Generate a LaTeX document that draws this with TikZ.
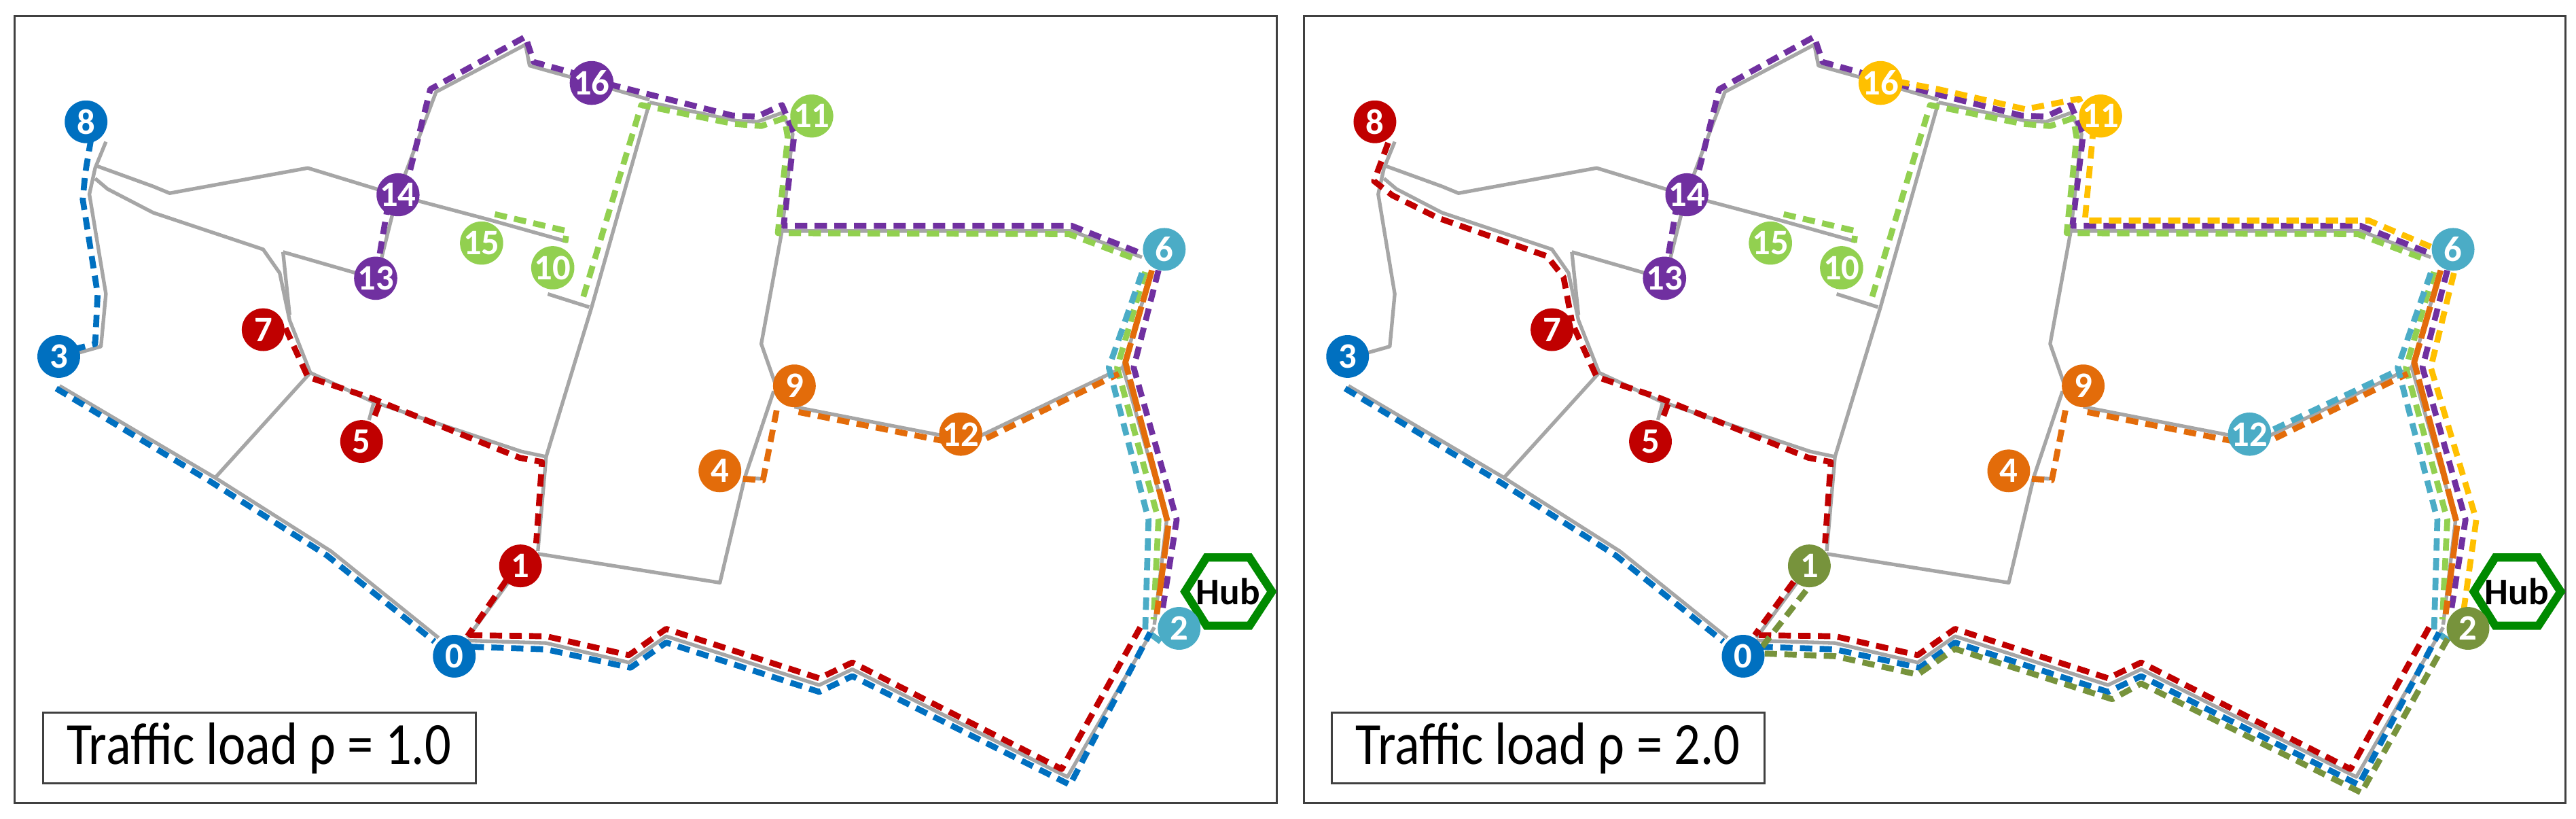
\documentclass[tikz,border=0pt]{standalone}
\usepackage{fontspec}
\setmainfont{Carlito}
\begin{document}
\definecolor{cblue}{HTML}{0070C0}
\definecolor{cred}{HTML}{C00000}
\definecolor{cpurple}{HTML}{7030A0}
\definecolor{cgreen}{HTML}{92D050}
\definecolor{corange}{HTML}{E36C0A}
\definecolor{ccyan}{HTML}{4BACC6}
\definecolor{cgold}{HTML}{FFC000}
\definecolor{colive}{HTML}{77933C}
\definecolor{croad}{HTML}{A6A6A6}
\definecolor{chub}{HTML}{008A00}
\begin{tikzpicture}[
  road/.style={draw=croad,line width=0.22mm,line join=round},
  rt/.style={line width=0.36mm,dash pattern=on 0.75mm off 0.45mm,line join=round},
  stop/.style={circle,minimum size=2.6mm,inner sep=0pt,text=white,font=\bfseries\fontsize{6.2}{7}\selectfont},
  frame/.style={draw=black!75,line width=0.12mm},
  lbl/.style={font=\fontsize{9}{11}\selectfont,yscale=1.15},
]
\useasboundingbox (0,0) rectangle (156.8mm,-49.8mm);
\newcommand\roadnet{%
  \draw[road] (128,270)--(115,320)--(108,370)--(128,560)--(122,660)--(95,672);
  \draw[road] (115,315)--(185,355)--(205,368)--(372,320)--(480,372)--(590,418)--(685,460);
  \draw[road] (115,340)--(130,360)--(185,405)--(318,475)--(338,520)--(350,610)--(375,710);
  \draw[road] (342,480)--(430,520);
  \draw[road] (342,480)--(350,600);
  \draw[road] (375,710)--(260,910);
  \draw[road] (72,735)--(260,910)--(400,1050)--(530,1215);
  \draw[road] (375,710)--(450,765)--(630,860)--(660,870);
  \draw[road] (452,765)--(446,800);
  \draw[road] (660,870)--(715,585)--(785,195);
  \draw[road] (662,560)--(712,585);
  \draw[road] (660,870)--(650,1050);
  \draw[road] (629,1078)--(565,1215);
  \draw[road] (650,1055)--(870,1110)--(900,910)--(935,745);
  \draw[road] (900,910)--(920,912);
  \draw[road] (940,745)--(920,655)--(945,440)--(958,255)--(945,215);
  \draw[road] (785,195)--(890,230)--(915,232)--(945,215);
  \draw[road] (480,372)--(527,175)--(635,85)--(640,125)--(715,158)--(785,190);
  \draw[road] (480,372)--(455,530);
  \draw[road] (945,440)--(1295,440)--(1380,490);
  \draw[road] (1392,515)--(1357,700)--(1410,990)--(1395,1190);
  \draw[road] (960,775)--(1140,830);
  \draw[road] (1185,830)--(1357,700);
  \draw[road] (560,1220)--(660,1225)--(760,1262)--(805,1212)--(990,1305)--(1030,1275)--(1290,1480)--(1395,1195);
  \draw[frame] (18,30) rectangle (1543,1530);
  \draw[chub,line width=0.5mm,fill=white] (1432,1127)--(1458,1062)--(1510,1062)--(1537,1127)--(1510,1192)--(1458,1192)--cycle;
}
\newcommand\commonroutes{%
  \draw[rt,cpurple] (455,520)--(470,380) (490,360)--(520,170)--(635,70)--(645,118)--(695,140) (735,160)--(785,180)--(885,220)--(915,222)--(945,200)--(960,255)--(947,430)--(1295,430)--(1375,480) (1400,515)--(1370,700)--(1422,990)--(1405,1160);
  \draw[rt,cgreen] (598,408)--(685,440)--(683,462);
  \draw[rt,cgreen] (705,565)--(775,200)--(887,236)--(920,240)--(948,225)--(952,262)--(940,444)--(1292,446)--(1375,495);
  \draw[rt,cgreen] (1384,518)--(1350,700)--(1400,990)--(1394,1180);
  \draw[rt,corange] (898,912)--(922,915)--(940,770);
  \draw[rt,corange] (965,785)--(1140,840);
  \draw[rt,corange] (1192,835)--(1352,712);
  \draw[rt,corange,dash pattern=on 2mm off 0.3mm] (1392,515)--(1360,690)--(1412,1000)--(1398,1170);
  \draw[rt,ccyan] (1380,520)--(1340,700)--(1388,990)--(1384,1200)--(1405,1225);
  \draw[rt,cred] (345,625)--(372,718)--(448,758)--(628,872)--(655,880)--(648,1035);
  \draw[rt,cred] (458,770)--(450,805);
  \draw[rt,cred] (568,1210)--(660,1212)--(760,1248)--(805,1198)--(990,1292)--(1030,1262)--(1283,1465)--(1378,1195);
  \draw[rt,cblue] (68,740)--(255,918)--(395,1058)--(525,1222);
  \draw[rt,cblue] (570,1232)--(660,1237)--(762,1272)--(805,1224)--(990,1318)--(1030,1288)--(1293,1495)--(1390,1205);
}
% ---------------- left panel
\begin{scope}[x={(0.05037mm,0)},y={(0,-0.03194mm)}]
  \roadnet
  \commonroutes
  \draw[rt,cblue] (110,265)--(103,330)--(100,380)--(118,560)--(115,655)--(90,665);
  \draw[rt,cred] (612,1105)--(565,1212);
  \node[stop,fill=cblue] (L8) at (104,232) {8};
  \node[stop,fill=cblue] (L3) at (71,679) {3};
  \node[stop,fill=cblue] (L0) at (549,1250) {0};
  \node[stop,fill=cred] (L1) at (629,1078) {1};
  \node[stop,fill=cred] (L7) at (318,628) {7};
  \node[stop,fill=cred] (L5) at (437,841) {5};
  \node[stop,fill=cpurple] (L13) at (454,530) {13};
  \node[stop,fill=cpurple] (L14) at (481,371) {14};
  \node[stop,fill=cpurple] (L16) at (715,158) {16};
  \node[stop,fill=cgreen] (L15) at (582,463) {15};
  \node[stop,fill=cgreen] (L10) at (668,510) {10};
  \node[stop,fill=cgreen] (L11) at (981,221) {11};
  \node[stop,fill=ccyan] (L6) at (1407,475) {6};
  \node[stop,fill=corange] (L9) at (960,735) {9};
  \node[stop,fill=corange] (L4) at (870,897) {4};
  \node[stop,fill=corange] (L12) at (1161,827) {12};
  \node[stop,fill=ccyan] (L2) at (1425,1197) {2};
  \node[font=\bfseries\fontsize{6.5}{7}\selectfont] (LH) at (1484,1127) {Hub};
  \draw[frame] (52,1358) rectangle (575,1492);
  \node[lbl] (LT) at (313,1425) {Traffic load ρ = 1.0};
\end{scope}
% ---------------- right panel
\begin{scope}[shift={(78.45mm,0)},x={(0.05037mm,0)},y={(0,-0.03194mm)}]
  \roadnet
  \commonroutes
  \draw[rt,cred] (120,272)--(103,345)--(125,372)--(180,415)--(312,488)--(332,528)--(342,612);
  \draw[rt,cred] (610,1108)--(563,1210);
  \draw[rt,colive] (625,1125)--(572,1232);
  \draw[rt,colive] (575,1245)--(660,1250)--(760,1285)--(805,1236)--(995,1332)--(1030,1302)--(1296,1510)--(1402,1212);
  \draw[rt,cgold] (735,155)--(785,170)--(890,208)--(955,188)--(972,250)--(962,420)--(1305,420)--(1380,470);
  \draw[rt,cgold] (1408,520)--(1380,700)--(1435,990)--(1420,1160);
  \draw[rt,ccyan] (1190,818)--(1345,702);
  \node[stop,fill=cred] (R8) at (104,232) {8};
  \node[stop,fill=cblue] (R3) at (71,679) {3};
  \node[stop,fill=cblue] (R0) at (549,1250) {0};
  \node[stop,fill=colive] (R1) at (629,1078) {1};
  \node[stop,fill=cred] (R7) at (318,628) {7};
  \node[stop,fill=cred] (R5) at (437,841) {5};
  \node[stop,fill=cpurple] (R13) at (454,530) {13};
  \node[stop,fill=cpurple] (R14) at (481,371) {14};
  \node[stop,fill=cgold] (R16) at (715,158) {16};
  \node[stop,fill=cgreen] (R15) at (582,463) {15};
  \node[stop,fill=cgreen] (R10) at (668,510) {10};
  \node[stop,fill=cgold] (R11) at (981,221) {11};
  \node[stop,fill=ccyan] (R6) at (1407,475) {6};
  \node[stop,fill=corange] (R9) at (960,735) {9};
  \node[stop,fill=corange] (R4) at (870,897) {4};
  \node[stop,fill=ccyan] (R12) at (1161,827) {12};
  \node[stop,fill=colive] (R2) at (1425,1197) {2};
  \node[font=\bfseries\fontsize{6.5}{7}\selectfont] (RH) at (1484,1127) {Hub};
  \draw[frame] (52,1358) rectangle (575,1492);
  \node[lbl] (RT) at (313,1425) {Traffic load ρ = 2.0};
\end{scope}
\end{tikzpicture}
\end{document}
